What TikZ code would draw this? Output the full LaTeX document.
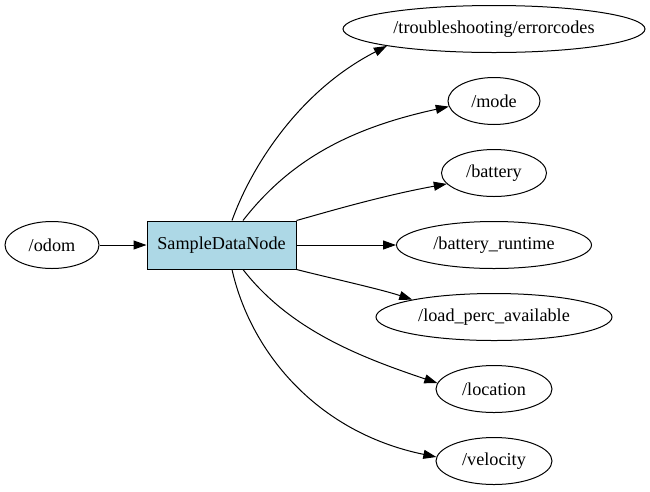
\documentclass[tikz,border=0pt]{standalone}
\usepackage{fontspec}
\setmainfont{Liberation Serif}
\usetikzlibrary{arrows.meta,shapes.geometric}
\definecolor{nodeblue}{RGB}{173,216,230}

\begin{document}
\begin{tikzpicture}[x=1pt, y=-1pt, line width=1pt,
	every node/.style={font=\fontsize{18.2}{21}\selectfont},
	topic/.style={draw, ellipse, inner sep=0pt, minimum height=47pt},
	edge/.style={-{Triangle[length=13pt, width=9pt]}}]
	\fill[white] (0,0) rectangle (650,491);
	\node[topic, minimum width=94pt] (odom) at (52,245) {/odom};
	\node[draw, fill=nodeblue, inner sep=0pt, minimum width=149pt, minimum height=48pt] (sdn) at (221.5,245) {SampleDataNode};
	\foreach \name/\y/\w/\lab in {err/29/302/{/troubleshooting/errorcodes}, mode/101/92/{/mode}, battery/173/105/{/battery}, runtime/245/195/{/battery\_runtime}, load/317/236/{/load\_perc\_available}, location/389/116/{/location}, velocity/461/116/{/velocity}} {
		\node[topic, minimum width=\w pt] (\name) at (494,\y) {\lab};
	}
	\draw[edge] (odom) -- (sdn);
	\draw[edge] ([xshift=10.5pt]sdn.north) .. controls (250,170) and (297,92) .. (err.189);
	\draw[edge] ([xshift=21.5pt]sdn.north) .. controls (290,160) and (350,128) .. (mode.187);
	\draw[edge] (sdn.north east) .. controls (320,214) and (380,196) .. (battery.193);
	\draw[edge] (sdn) -- (runtime);
	\draw[edge] (sdn.south east) .. controls (330,278) and (380,289) .. (load.168);
	\draw[edge] ([xshift=21.5pt]sdn.south) .. controls (290,330) and (360,357) .. (location.174);
	\draw[edge] ([xshift=10.5pt]sdn.south) .. controls (250,350) and (315,432) .. (velocity.176);
\end{tikzpicture}
\end{document}
